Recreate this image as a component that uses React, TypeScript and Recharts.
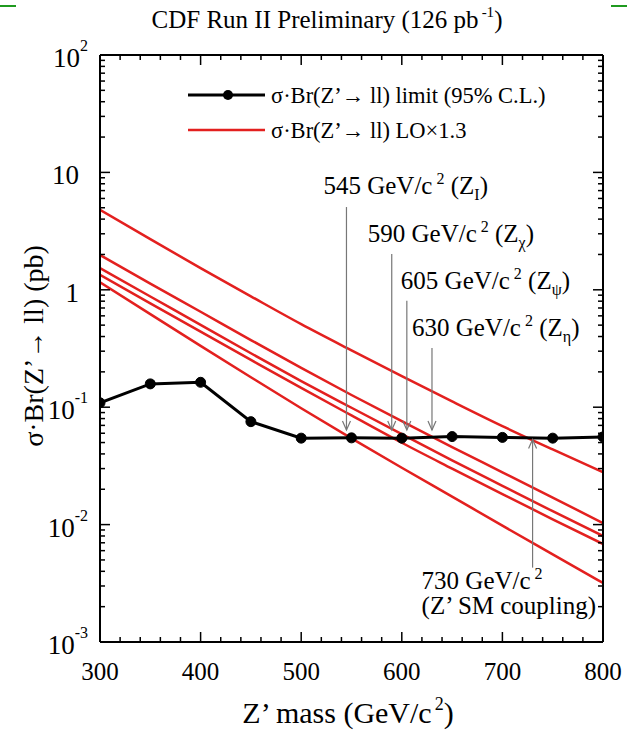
import { Legend, Line, LineChart, ReferenceLine, XAxis, YAxis } from "recharts";

const SERIF = '"Liberation Serif", "Times New Roman", Times, "DejaVu Serif", serif';
const RED = "#e3201f";
const serif = { fontFamily: SERIF };

// Z' mass points (GeV/c^2)
const masses = [300, 350, 400, 450, 500, 550, 600, 650, 700, 750, 800];

// observed 95% C.L. limit on sigma*Br (pb)
const limit = [0.109, 0.158, 0.163, 0.0753, 0.0545, 0.0548, 0.0545, 0.0562, 0.0553, 0.0545, 0.0558];

// LO x 1.3 predictions (pb) for the different couplings
const zSM = [4.8, 2.7, 1.53, 0.88, 0.51, 0.305, 0.184, 0.112, 0.069, 0.0437, 0.028];
const zEta = [1.98, 1.13, 0.65, 0.373, 0.216, 0.127, 0.076, 0.0457, 0.0279, 0.017, 0.0103];
const zPsi = [1.53, 0.877, 0.502, 0.288, 0.167, 0.0989, 0.0589, 0.0353, 0.0214, 0.013, 0.008];
const zChi = [1.34, 0.767, 0.44, 0.253, 0.146, 0.0851, 0.0498, 0.03, 0.0182, 0.0111, 0.00684];
const zI = [1.16, 0.62, 0.333, 0.18, 0.098, 0.0543, 0.0305, 0.0173, 0.0098, 0.00558, 0.00318];

// mass limits marked with arrows
const limitMasses = [545, 590, 605, 630, 730];
const limitSubs = ["I", "χ", "ψ", "η", ""];

const xTicks = [
  300, 320, 340, 360, 380, 400, 420, 440, 460, 480, 500, 520, 540, 560, 580, 600,
  620, 640, 660, 680, 700, 720, 740, 760, 780, 800,
];
const yDecades = [0.001, 0.01, 0.1, 1, 10, 100];
const yDecadeText = [
  ["10", "-3"],
  ["10", "-2"],
  ["10", "-1"],
  ["1", ""],
  ["10", ""],
  ["10", "2"],
];
const yTicks = [
  ...yDecades,
  ...yDecades.slice(0, -1).flatMap((d) => [2, 3, 4, 5, 6, 7, 8, 9].map((k) => d * k)),
];

const data = masses.map((m, i) => ({
  m,
  limit: limit[i],
  zSM: zSM[i],
  zEta: zEta[i],
  zPsi: zPsi[i],
  zChi: zChi[i],
  zI: zI[i],
}));

// arrow geometry: y range of each arrow (pb) and text offsets (px)
const arrowSpec = [
  { from: 5.07, to: 0.064, dx: -23, dy: -13 },
  { from: 2.02, to: 0.064, dx: -24, dy: -12 },
  { from: 0.807, to: 0.064, dx: -6, dy: -12 },
  { from: 0.319, to: 0.064, dx: -20, dy: -12 },
  { from: 0.0043, to: 0.053, dx: -111, dy: 21 },
];

const isDecade = (v: number) => Math.abs(Math.log10(v) - Math.round(Math.log10(v))) < 1e-6;

const BottomTick = (props: any) => {
  const { x, y, payload } = props;
  const major = payload.value % 100 === 0;
  return (
    <g>
      <line x1={x} y1={y} x2={x} y2={y - (major ? 10 : 5)} stroke="#000" strokeWidth={1.5} />
      {major && (
        <text x={x} y={y + 38} textAnchor="middle" fontSize={25} style={serif} fill="#000">
          {payload.value}
        </text>
      )}
    </g>
  );
};

const TopTick = (props: any) => {
  const { x, y, payload } = props;
  const major = payload.value % 100 === 0;
  return <line x1={x} y1={y} x2={x} y2={y + (major ? 10 : 5)} stroke="#000" strokeWidth={1.5} />;
};

const LeftTick = (props: any) => {
  const { x, y, payload } = props;
  const major = isDecade(payload.value);
  const idx = Math.round(Math.log10(payload.value)) + 3;
  const [base, exp] = yDecadeText[idx] || ["", ""];
  return (
    <g>
      <line x1={x} y1={y} x2={x + (major ? 10 : 5)} y2={y} stroke="#000" strokeWidth={1.5} />
      {major && (
        <text x={x - (exp ? 12 : 21)} y={y + 12} textAnchor="end" fontSize={27} style={serif} fill="#000">
          {base}
          {exp && (
            <tspan dy={-16} fontSize={16}>
              {exp}
            </tspan>
          )}
        </text>
      )}
    </g>
  );
};

const RightTick = (props: any) => {
  const { x, y, payload } = props;
  const major = isDecade(payload.value);
  return <line x1={x} y1={y} x2={x - (major ? 10 : 5)} y2={y} stroke="#000" strokeWidth={1.5} />;
};

const makeArrow = (i: number) => (props: any) => {
  const { x1, y1, x2, y2 } = props;
  const { dx, dy } = arrowSpec[i];
  const dir = y2 > y1 ? 1 : -1;
  const mass = limitMasses[i];
  const sub = limitSubs[i];
  return (
    <g>
      <line x1={x1} y1={y1} x2={x2} y2={y2} stroke="#777" strokeWidth={1.2} />
      <polyline
        points={`${x2 - 4},${y2 - dir * 9} ${x2},${y2} ${x2 + 4},${y2 - dir * 9}`}
        fill="none"
        stroke="#777"
        strokeWidth={1.2}
      />
      {sub ? (
        <text x={x1 + dx} y={y1 + dy} fontSize={25} style={serif} fill="#000">
          {mass} GeV/c
          <tspan dx={4} dy={-10} fontSize={16}>
            2
          </tspan>
          <tspan dy={10}> (Z</tspan>
          <tspan dy={6} fontSize={16}>
            {sub}
          </tspan>
          <tspan dy={-6}>)</tspan>
        </text>
      ) : (
        <text x={x1 + dx} y={y1 + dy} fontSize={25} style={serif} fill="#000">
          <tspan>
            {mass} GeV/c
            <tspan dx={4} dy={-10} fontSize={16}>
              2
            </tspan>
          </tspan>
          <tspan x={x1 + dx} dy={35}>
            (Z’ SM coupling)
          </tspan>
        </text>
      )}
    </g>
  );
};

const LegendBox = () => (
  <svg width={430} height={64} style={{ display: "block" }}>
    <line x1={8} y1={15} x2={85} y2={15} stroke="#000" strokeWidth={3} />
    <circle cx={48} cy={15} r={5} fill="#000" />
    <text x={91} y={23} fontSize={22.5} style={serif} fill="#000">
      σ·Br(Z’→ ll) limit (95% C.L.)
    </text>
    <line x1={8} y1={50} x2={85} y2={50} stroke={RED} strokeWidth={2.5} />
    <text x={91} y={58} fontSize={22.5} style={serif} fill="#000">
      σ·Br(Z’→ ll) LO×1.3
    </text>
  </svg>
);

const redKeys = ["zSM", "zEta", "zPsi", "zChi", "zI"];

export default function App() {
  return (
    <div style={{ position: "absolute", left: 0, top: 0, width: 627, height: 734, background: "#fff" }}>
      <div style={{ position: "absolute", left: 0, top: 5, width: 16, height: 2, background: "#1f9a1f" }} />
      <div style={{ position: "absolute", right: 0, top: 5, width: 16, height: 2, background: "#1f9a1f" }} />
      <LineChart width={627} height={734} data={data} margin={{ top: 54, right: 23, bottom: 52, left: 0 }}>
        <XAxis
          xAxisId="bottom"
          dataKey="m"
          type="number"
          domain={[300, 800]}
          allowDataOverflow
          ticks={xTicks}
          interval={0}
          height={40}
          tickSize={0}
          tickMargin={0}
          tick={<BottomTick />}
          axisLine={{ stroke: "#000", strokeWidth: 2 }}
        />
        <XAxis
          xAxisId="top"
          orientation="top"
          dataKey="m"
          type="number"
          domain={[300, 800]}
          allowDataOverflow
          ticks={xTicks}
          interval={0}
          height={1}
          tickSize={0}
          tickMargin={0}
          tick={<TopTick />}
          axisLine={{ stroke: "#000", strokeWidth: 2 }}
        />
        <YAxis
          yAxisId="left"
          type="number"
          scale="log"
          domain={[0.001, 100]}
          allowDataOverflow
          ticks={yTicks}
          interval={0}
          width={100}
          tickSize={0}
          tickMargin={0}
          tick={<LeftTick />}
          axisLine={{ stroke: "#000", strokeWidth: 2 }}
        />
        <YAxis
          yAxisId="right"
          orientation="right"
          type="number"
          scale="log"
          domain={[0.001, 100]}
          allowDataOverflow
          ticks={yTicks}
          interval={0}
          width={1}
          tickSize={0}
          tickMargin={0}
          tick={<RightTick />}
          axisLine={{ stroke: "#000", strokeWidth: 2 }}
        />
        <Legend
          layout="horizontal"
          verticalAlign="middle"
          align="center"
          wrapperStyle={{ top: 80, left: 180, width: 430, height: 64 }}
          content={() => <LegendBox />}
        />
        {redKeys.map((k) => (
          <Line
            key={k}
            xAxisId="bottom"
            yAxisId="left"
            dataKey={k}
            type="monotone"
            stroke={RED}
            strokeWidth={2.5}
            dot={false}
            isAnimationActive={false}
          />
        ))}
        <Line
          xAxisId="bottom"
          yAxisId="left"
          dataKey="limit"
          type="linear"
          stroke="#000"
          strokeWidth={3}
          dot={{ r: 5, fill: "#000", stroke: "#000", strokeWidth: 1 }}
          isAnimationActive={false}
        />
        {limitMasses.map((mass, i) => (
          <ReferenceLine
            key={mass}
            xAxisId="bottom"
            yAxisId="left"
            segment={[
              { x: mass, y: arrowSpec[i].from },
              { x: mass, y: arrowSpec[i].to },
            ]}
            shape={makeArrow(i)}
          />
        ))}
      </LineChart>
      <svg width={627} height={734} style={{ position: "absolute", left: 0, top: 0, pointerEvents: "none" }}>
        <text x={327} y={28} textAnchor="middle" fontSize={25} style={serif} fill="#000">
          CDF Run II Preliminary (126 pb
          <tspan dx={3} dy={-11} fontSize={15}>
            -1
          </tspan>
          <tspan dy={11}>)</tspan>
        </text>
        <text x={348} y={723} textAnchor="middle" fontSize={30} style={serif} fill="#000">
          Z’ mass (GeV/c
          <tspan dx={3} dy={-13} fontSize={18}>
            2
          </tspan>
          <tspan dy={13}>)</tspan>
        </text>
        <text
          x={43}
          y={346}
          transform="rotate(-90, 43, 346)"
          textAnchor="middle"
          fontSize={28}
          style={serif}
          fill="#000"
        >
          σ·Br(Z’→ ll) (pb)
        </text>
      </svg>
    </div>
  );
}
